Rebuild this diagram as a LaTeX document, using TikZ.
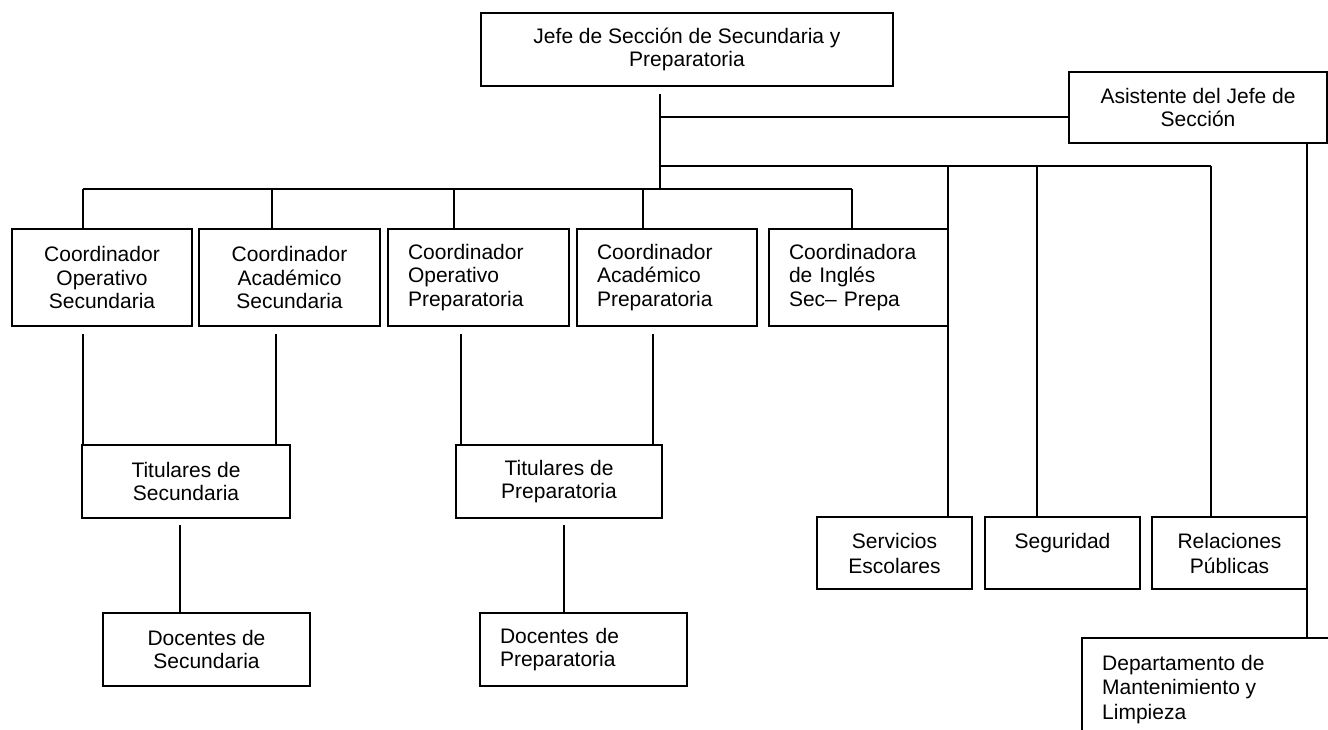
\documentclass[tikz,border=0pt]{standalone}
\usepackage{fontspec}
\setmainfont{Liberation Sans}
\begin{document}
\begin{tikzpicture}[x=1pt,y=-1pt,
  txt/.style={font=\fontsize{21pt}{23.5pt}\selectfont},
  box/.style={draw, line width=2pt, inner sep=0pt, align=center, txt},
  lbox/.style={box, align=left, inner xsep=20pt},
  link/.style={line width=2pt}]
\useasboundingbox (0,0) rectangle (1328,729);
\clip (0,0) rectangle (1328,729);

% head of the section and assistant
\node[box, minimum width=412pt, minimum height=73pt] (jefe) at (687,49.5)
  {Jefe de Sección de Secundaria y\\Preparatoria};
\node[box, minimum width=258pt, minimum height=71pt] (asis) at (1198,107.5)
  {Asistente del Jefe de\\Sección};

% coordinators
\node[box, minimum width=180pt, minimum height=97pt] (cos) at (102,277.5)
  {Coordinador\\Operativo\\Secundaria};
\node[box, minimum width=181pt, minimum height=97pt] (cas) at (289.5,277.5)
  {Coordinador\\Académico\\Secundaria};
\node[lbox, text width=141pt, minimum height=97pt] (cop) at (478.5,277.5)
  {Coordinador\\Operativo\\Preparatoria};
\node[lbox, text width=140pt, minimum height=97pt] (cap) at (667,277.5)
  {Coordinador\\Académico\\Preparatoria};
\node[lbox, text width=139pt, minimum height=97pt] (ing) at (858.5,277.5)
  {Coordinadora\\de Inglés\\Sec– Prepa};

% homeroom teachers and teachers
\node[box, minimum width=208pt, minimum height=73pt] (tsec) at (186,481.5)
  {Titulares de\\Secundaria};
\node[box, minimum width=206pt, minimum height=73pt] (tprep) at (559,481.5)
  {Titulares de\\Preparatoria};
\node[box, minimum width=207pt, minimum height=73pt] (dsec) at (206.5,649.5)
  {Docentes de\\Secundaria};
\node[lbox, text width=167pt, minimum height=73pt] (dprep) at (583.5,649.5)
  {Docentes de\\Preparatoria};

% services
\node[box, minimum width=155pt, minimum height=72pt,
  font=\fontsize{21pt}{25pt}\selectfont] (serv) at (894.5,553)
  {Servicios\\Escolares};
\node[box, minimum width=155pt, minimum height=72pt,
  font=\fontsize{21pt}{25pt}\selectfont] (seg) at (1062.5,553)
  {Seguridad\\\mbox{}};
\node[box, minimum width=155pt, minimum height=72pt,
  font=\fontsize{21pt}{25pt}\selectfont] (rel) at (1229.5,553)
  {Relaciones\\Públicas};
\node[draw, line width=2pt, anchor=north west, minimum width=290pt,
  minimum height=140pt, inner sep=0pt] (dep) at (1081,637) {};
\node[anchor=north west, inner sep=0pt, align=left,
  font=\fontsize{21pt}{24.5pt}\selectfont] (deptxt)
  at ([xshift=21pt,yshift=-18pt]dep.north west)
  {Departamento de\\Mantenimiento y\\Limpieza};

% trunk lines
\coordinate (trunk) at (660,189);
\coordinate (asisrow) at (660,117);
\coordinate (srvrow) at (660,166);
\coordinate (srvend) at (1211,166);

\draw[link] ([yshift=-7pt]jefe.south -| trunk) -- (trunk);
\draw[link] (asisrow) -- (asis.west |- asisrow);
\draw[link] (srvrow) -- (srvend);

% coordinator bus
\coordinate (busL) at (83,189);
\coordinate (busR) at (852,189);
\draw[link] (busL) -- (busR);
\draw[link] (busL) -- (cos.north -| busL);
\draw[link] (272,189) coordinate (b2) -- (cas.north -| b2);
\draw[link] (454,189) coordinate (b3) -- (cop.north -| b3);
\draw[link] (643,189) coordinate (b4) -- (cap.north -| b4);
\draw[link] (busR) -- (ing.north -| busR);

% service drops
\draw[link] (948,166) coordinate (s1) -- (serv.north -| s1);
\draw[link] (1037,166) coordinate (s2) -- (seg.north -| s2);
\draw[link] (srvend) -- (rel.north -| srvend);
\coordinate (asisdrop) at (1307,143);
\draw[link] (asis.south -| asisdrop) -- (dep.north -| asisdrop);

% coordinators to homeroom teachers
\draw[link] ([yshift=-7pt]cos.south -| 83,0) -- (tsec.north -| 83,0);
\draw[link] ([yshift=-7pt]cas.south -| 276,0) -- (tsec.north -| 276,0);
\draw[link] ([yshift=-7pt]cop.south -| 461,0) -- (tprep.north -| 461,0);
\draw[link] ([yshift=-7pt]cap.south -| 653,0) -- (tprep.north -| 653,0);

% homeroom teachers to teachers
\draw[link] ([yshift=-6pt]tsec.south -| 180,0) -- (dsec.north -| 180,0);
\draw[link] ([yshift=-6pt]tprep.south -| 564,0) -- (dprep.north -| 564,0);
\end{tikzpicture}
\end{document}
